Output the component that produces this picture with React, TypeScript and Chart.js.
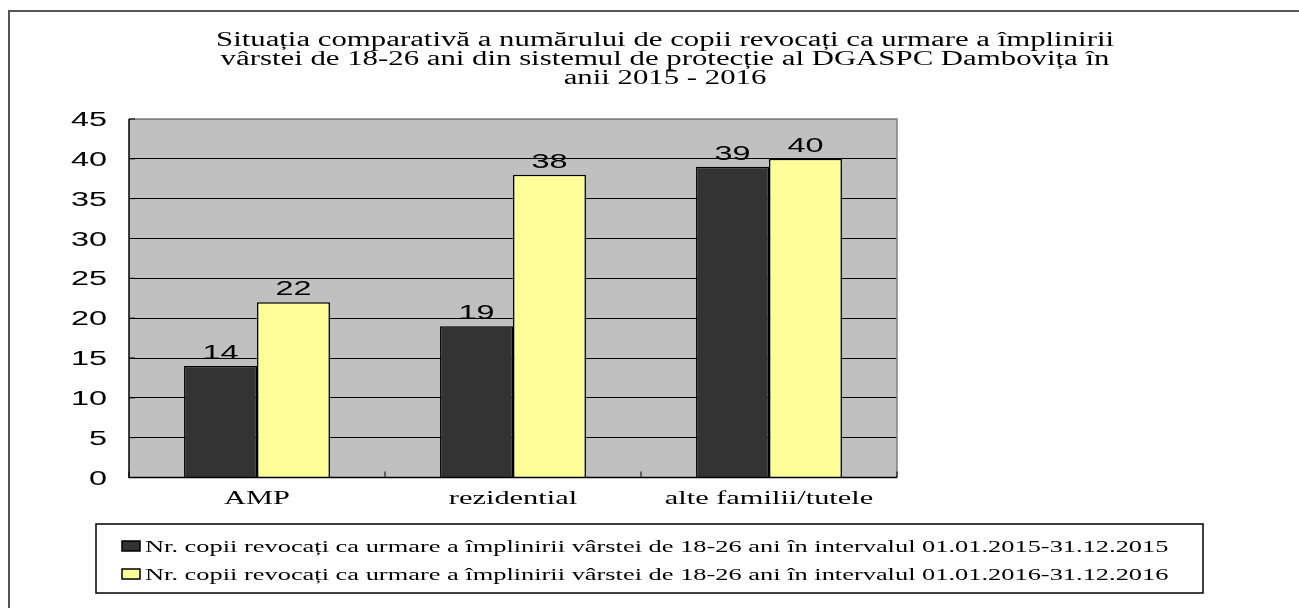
import React, { useEffect, useRef } from "react";
import { Chart, registerables } from "chart.js";

Chart.register(...registerables);

const titleLines = [
  "Situația comparativă a numărului de copii revocați ca urmare a împlinirii",
  "vârstei de 18-26 ani din sistemul de protecție al DGASPC Dambovița în",
  "anii 2015 - 2016",
];
const categories = ["AMP", "rezidential", "alte familii/tutele"];
const values2015 = [14, 19, 39];
const values2016 = [22, 38, 40];
const seriesLabels = [
  "Nr. copii revocați ca urmare a împlinirii vârstei de 18-26 ani în intervalul 01.01.2015-31.12.2015",
  "Nr. copii revocați ca urmare a împlinirii vârstei de 18-26 ani în intervalul 01.01.2016-31.12.2016",
];
const seriesColors = ["#333333", "#ffff99"];
const yMin = 0;
const yMax = 45;
const yStep = 5;

const SERIF = '"Liberation Serif", "Times New Roman", serif';
const SANS = '"Liberation Sans", Arial, sans-serif';

function drawText(
  ctx: CanvasRenderingContext2D,
  text: string,
  x: number,
  y: number,
  font: string,
  sx: number,
  align: CanvasTextAlign
) {
  ctx.save();
  ctx.font = font;
  ctx.fillStyle = "#000";
  ctx.textAlign = align;
  ctx.textBaseline = "alphabetic";
  ctx.translate(x, y);
  ctx.scale(sx, 1);
  ctx.fillText(text, 0, 0);
  ctx.restore();
}

const bgPlugin = {
  id: "plotBg",
  beforeDraw(chart: any) {
    const { ctx, chartArea: a } = chart;
    ctx.save();
    ctx.fillStyle = "#ffffff";
    ctx.fillRect(0, 0, chart.width, chart.height);
    ctx.fillStyle = "#c0c0c0";
    ctx.fillRect(a.left, a.top, a.right - a.left, a.bottom - a.top);
    ctx.restore();
  },
};

const overlayPlugin = {
  id: "overlay",
  afterDraw(chart: any) {
    const { ctx, chartArea: a } = chart;
    const xs = chart.scales.x;
    const ys = chart.scales.y;

    // outer frame
    ctx.save();
    ctx.strokeStyle = "#555555";
    ctx.lineWidth = 2;
    ctx.strokeRect(9, 11, 1400, 700);
    ctx.restore();

    // plot frame: right gray, left/bottom black
    ctx.save();
    ctx.lineWidth = 1.5;
    ctx.strokeStyle = "#808080";
    ctx.beginPath();
    ctx.moveTo(a.left, a.top);
    ctx.lineTo(a.right, a.top);
    ctx.lineTo(a.right, a.bottom);
    ctx.stroke();
    ctx.strokeStyle = "#000";
    ctx.beginPath();
    ctx.moveTo(a.left, a.top);
    ctx.lineTo(a.left, a.bottom);
    ctx.lineTo(a.right, a.bottom);
    ctx.stroke();
    // inward tick marks
    ctx.lineWidth = 1;
    ys.ticks.forEach((t: any) => {
      const y = ys.getPixelForValue(t.value);
      ctx.beginPath();
      ctx.moveTo(a.left, y);
      ctx.lineTo(a.left + 6, y);
      ctx.stroke();
    });
    const n = categories.length;
    for (let i = 0; i <= n; i++) {
      const x =
        i < n
          ? xs.getPixelForValue(i) - (xs.getPixelForValue(1) - xs.getPixelForValue(0)) / 2
          : a.right;
      ctx.beginPath();
      ctx.moveTo(x, a.bottom);
      ctx.lineTo(x, a.bottom - 6);
      ctx.stroke();
    }
    ctx.restore();

    // y tick labels
    ys.ticks.forEach((t: any) => {
      const y = ys.getPixelForValue(t.value);
      drawText(ctx, String(t.value), a.left - 22, y + 7, `19.5px ${SANS}`, 1.66, "right");
    });

    // x labels
    categories.forEach((c, i) => {
      drawText(ctx, c, xs.getPixelForValue(i), a.bottom + 26.5, `19px ${SERIF}`, 1.6, "center");
    });

    // data labels
    chart.data.datasets.forEach((ds: any, di: number) => {
      const meta = chart.getDatasetMeta(di);
      meta.data.forEach((bar: any, i: number) => {
        drawText(ctx, String(ds.data[i]), bar.x, bar.y - 7, `19.5px ${SANS}`, 1.66, "center");
      });
    });

    // title
    titleLines.forEach((line, i) => {
      drawText(ctx, line, 665, 45.5 + i * 19, `20px ${SERIF}`, 1.54, "center");
    });

    // legend
    ctx.save();
    ctx.strokeStyle = "#000";
    ctx.lineWidth = 1.5;
    ctx.strokeRect(96, 524, 1107, 69);
    chart.data.datasets.forEach((ds: any, di: number) => {
      const cy = 546 + di * 28;
      ctx.fillStyle = ds.backgroundColor;
      ctx.fillRect(122, cy - 5, 18, 10);
      ctx.strokeRect(122, cy - 5, 18, 10);
      drawText(ctx, ds.label, 145, cy + 5.5, `16.5px ${SERIF}`, 1.6, "left");
    });
    ctx.restore();
  },
};

export default function App() {
  const ref = useRef<HTMLCanvasElement | null>(null);
  useEffect(() => {
    document.body.style.margin = "0";
    const canvas = ref.current;
    if (!canvas) return;
    const chart = new Chart(canvas, {
      type: "bar",
      data: {
        labels: categories,
        datasets: [
          {
            label: seriesLabels[0],
            data: values2015,
            backgroundColor: seriesColors[0],
            borderColor: "#000",
            borderWidth: 1.5,
          },
          {
            label: seriesLabels[1],
            data: values2016,
            backgroundColor: seriesColors[1],
            borderColor: "#000",
            borderWidth: 1.5,
          },
        ],
      },
      options: {
        responsive: false,
        animation: false,
        devicePixelRatio: 1,
        layout: { padding: { left: 0, right: 402, top: 119, bottom: 0 } },
        plugins: {
          legend: { display: false },
          title: { display: false },
          tooltip: { enabled: false },
        },
        datasets: { bar: { categoryPercentage: 0.57, barPercentage: 1 } },
        scales: {
          x: {
            grid: { display: false },
            ticks: { display: false },
            border: { display: false },
            afterFit: (s: any) => {
              s.height = 130.5;
            },
          },
          y: {
            min: yMin,
            max: yMax,
            ticks: { stepSize: yStep, display: false },
            grid: {
              color: (c: any) => (c.tick && c.tick.value === yMax ? "#808080" : "#000"),
              lineWidth: 1,
              drawTicks: false,
            },
            border: { display: false },
            afterFit: (s: any) => {
              s.width = 129;
            },
          },
        },
      },
      plugins: [bgPlugin, overlayPlugin],
    } as any);
    return () => chart.destroy();
  }, []);
  return <canvas ref={ref} width={1299} height={608} style={{ display: "block" }} />;
}
